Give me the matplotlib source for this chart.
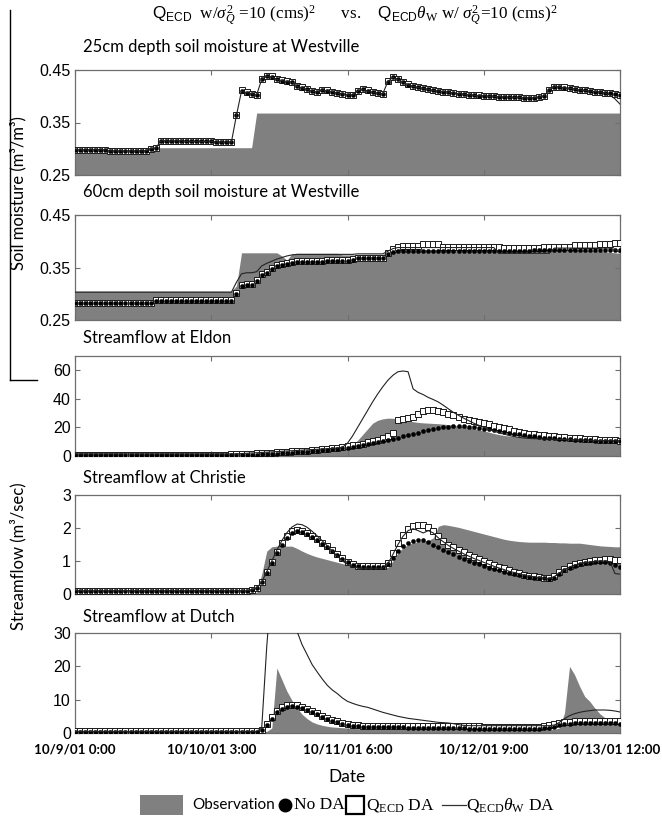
import numpy as np
import matplotlib
matplotlib.use('Agg')
import matplotlib.pyplot as plt
from matplotlib.lines import Line2D
from matplotlib.patches import Rectangle
from matplotlib.transforms import ScaledTranslation

plt.rcParams['mathtext.fontset'] = 'custom'
plt.rcParams['mathtext.rm'] = 'Liberation Serif'
plt.rcParams['mathtext.it'] = 'Liberation Serif:italic'
plt.rcParams['mathtext.sf'] = 'Liberation Sans'
plt.rcParams['mathtext.bf'] = 'Liberation Serif:bold'

# ---------------- data (hourly, 10/9/01 0:00 .. 10/13/01 12:00) ----------------
hours = np.arange(109)
xtick_pos = [0, 27, 54, 81, 108]
xtick_labels = ['10/9/01 0:00', '10/10/01 3:00', '10/11/01 6:00', '10/12/01 9:00', '10/13/01 12:00']

# Panel 1: 25cm soil moisture, Westville
p1_obs = [0.302] * 36 + [0.368] * 73
p1_nda = ([0.298] * 7 + [0.296] * 8 + [0.300, 0.301] +
          [0.315, 0.315, 0.315, 0.315, 0.315, 0.314, 0.314, 0.314, 0.314, 0.314, 0.314, 0.313, 0.313, 0.313] +
          [0.313, 0.364, 0.410, 0.407, 0.405, 0.403, 0.432, 0.438, 0.437] +
          [0.432, 0.430, 0.428, 0.427, 0.419, 0.416, 0.413, 0.410, 0.408] +
          [0.412, 0.410, 0.409, 0.406, 0.405, 0.403, 0.402] +
          [0.410, 0.413, 0.410, 0.408, 0.406, 0.405] +
          [0.428, 0.436, 0.432, 0.427, 0.422, 0.419, 0.417, 0.415, 0.413, 0.411, 0.410] +
          [0.409, 0.408, 0.406, 0.405, 0.404, 0.403, 0.402, 0.401, 0.401, 0.400] +
          [0.400, 0.399, 0.399, 0.398, 0.398, 0.398, 0.397, 0.397, 0.397, 0.398] +
          [0.401, 0.412, 0.418, 0.418, 0.416, 0.415, 0.414, 0.412, 0.411, 0.410, 0.409, 0.408, 0.407, 0.406, 0.404, 0.402])
p1_qecd = ([0.298] * 7 + [0.296] * 8 + [0.300, 0.301] +
           [0.315, 0.315, 0.315, 0.315, 0.315, 0.314, 0.314, 0.314, 0.314, 0.314, 0.314, 0.313, 0.313, 0.313] +
           [0.313, 0.364, 0.411, 0.408, 0.405, 0.403, 0.433, 0.439, 0.438] +
           [0.433, 0.431, 0.429, 0.427, 0.420, 0.417, 0.413, 0.410, 0.408] +
           [0.412, 0.411, 0.409, 0.407, 0.405, 0.403, 0.402] +
           [0.410, 0.413, 0.411, 0.408, 0.406, 0.405] +
           [0.429, 0.436, 0.432, 0.427, 0.423, 0.420, 0.417, 0.415, 0.413, 0.411, 0.410] +
           [0.409, 0.408, 0.407, 0.405, 0.404, 0.403, 0.402, 0.402, 0.401, 0.400] +
           [0.400, 0.399, 0.399, 0.398, 0.398, 0.398, 0.397, 0.397, 0.397, 0.398] +
           [0.401, 0.412, 0.418, 0.418, 0.417, 0.415, 0.414, 0.412, 0.411, 0.410, 0.409, 0.408, 0.407, 0.406, 0.404, 0.402])
p1_qth = ([0.298] * 7 + [0.296] * 8 + [0.300, 0.301] +
          [0.315, 0.315, 0.315, 0.315, 0.315, 0.314, 0.314, 0.314, 0.314, 0.314, 0.314, 0.313, 0.313, 0.313] +
          [0.313, 0.364, 0.410, 0.407, 0.405, 0.403, 0.432, 0.438, 0.437] +
          [0.432, 0.430, 0.428, 0.427, 0.419, 0.416, 0.413, 0.410, 0.408] +
          [0.412, 0.410, 0.409, 0.406, 0.405, 0.403, 0.402] +
          [0.410, 0.413, 0.410, 0.408, 0.406, 0.405] +
          [0.428, 0.436, 0.432, 0.427, 0.422, 0.419, 0.417, 0.415, 0.413, 0.411, 0.410] +
          [0.409, 0.408, 0.406, 0.405, 0.404, 0.403, 0.402, 0.401, 0.401, 0.400] +
          [0.400, 0.399, 0.399, 0.398, 0.398, 0.398, 0.397, 0.397, 0.397, 0.398] +
          [0.401, 0.412, 0.418, 0.418, 0.416, 0.415, 0.414, 0.412, 0.411, 0.410, 0.409, 0.408, 0.407, 0.402, 0.395, 0.385])

# Panel 2: 60cm soil moisture, Westville
p2_obs = ([0.305] * 32 + [0.315] + [0.378] * 8 + [0.372, 0.364, 0.376] + [0.377] * 9 +
          [0.374] * 4 + [0.375] * 5 + [0.379, 0.383, 0.385] + [0.384] * 36 +
          [0.383, 0.382, 0.382, 0.381, 0.380, 0.379, 0.378, 0.377])
p2_nda = ([0.282] * 16 + [0.287] * 16 +
          [0.300, 0.315, 0.316, 0.317, 0.325, 0.335, 0.340, 0.348, 0.352, 0.355, 0.357, 0.358] +
          [0.360, 0.360, 0.361, 0.361, 0.361, 0.361, 0.362, 0.362, 0.362, 0.362, 0.363, 0.364] +
          [0.368] * 6 + [0.375, 0.380, 0.382] + [0.382] * 26 + [0.383] * 10 + [0.384] * 8)
p2_qecd = ([0.283] * 16 + [0.288] * 16 +
           [0.302, 0.317, 0.318, 0.319, 0.327, 0.337, 0.342, 0.350, 0.354, 0.357, 0.359, 0.360] +
           [0.362, 0.362, 0.363, 0.363, 0.363, 0.363, 0.364, 0.364, 0.364, 0.364, 0.365, 0.366] +
           [0.369] * 6 + [0.378, 0.386, 0.390] + [0.391] * 4 + [0.394] * 4 + [0.390] * 12 +
           [0.388] * 8 + [0.389] * 6 + [0.392] * 5 + [0.394, 0.395, 0.395, 0.396, 0.396])
p2_qth = ([0.303] * 32 +
          [0.322, 0.338, 0.340, 0.340, 0.342, 0.353, 0.358, 0.362, 0.366, 0.369, 0.372, 0.374] +
          [0.375] * 12 + [0.376] * 6 + [0.381, 0.386, 0.388] + [0.388] * 19 + [0.377] * 11 +
          [0.387] * 12 + [0.384, 0.378])

# Panel 3: Streamflow at Eldon
p3_obs = ([1.2] * 45 + [2.0, 2.5, 3.0, 3.5, 4.0, 4.5, 5.0, 5.5] +
          [6, 7, 8, 11, 15, 19, 23, 25, 26, 26.5,
           26.4, 26, 25, 24.5, 24, 23.5, 23.2, 23, 22.8, 22.6,
           22.3, 22, 21.6, 21, 20.5, 20, 19.2, 18.4, 17.6, 16.7,
           15.8, 15, 14.4, 14, 13.6, 13.4, 13.1, 12.8, 12.5, 12.3,
           12.2, 12, 11.8, 11.6, 11.4, 11.3, 11.1, 10.9, 10.7, 10.5,
           10.4, 10.3, 10.2, 10.1, 10.1, 10.0])
p3_nda = ([0.8] * 35 + [0.9, 1.0, 1.1, 1.2, 1.4, 1.6] +
          [1.8, 2.0, 2.2, 2.5, 2.8, 3.1, 3.4, 3.7, 4.0, 4.3, 4.6, 5.0] +
          [5.4, 5.9, 6.4, 7.0, 7.6, 8.2, 8.9, 9.6, 10.4, 11.2,
           12.0, 12.8, 13.7, 14.6, 15.5, 16.4, 17.3, 18.1, 18.9, 19.6,
           20.1, 20.5, 20.7, 20.8, 20.7, 20.5, 20.1, 19.7, 19.2, 18.6,
           18.0, 17.4, 16.8, 16.2, 15.6, 15.1, 14.6, 14.1, 13.7, 13.3,
           12.9, 12.6, 12.3, 12.0, 11.8, 11.6, 11.4, 11.2, 11.0, 10.9,
           10.8, 10.7, 10.6, 10.5, 10.5, 10.4])
p3_qecd = ([1.0] * 31 +
           [1.2, 1.3, 1.4, 1.5, 1.6, 1.8, 2.0, 2.2, 2.4, 2.6, 2.8, 3.0, 3.2, 3.4, 3.6, 3.8, 4.0, 4.3, 4.6, 5.0, 5.4, 5.8] +
           [6.3, 6.8, 7.4, 8.0, 8.7, 9.5, 10.4, 11.4, 12.5, 13.7, 16.0] +
           [25.0, 25.8, 26.8, 27.5, 29.5, 31.5, 32.2, 32.0, 31.8, 31.0,
            29.2, 28.4, 27.5, 26.2, 25.2, 24.3, 23.5, 22.8, 22.1, 21.3,
            20.6, 19.9, 18.8, 17.6, 16.6, 16.0, 15.5, 15.2, 14.8, 14.5,
            14.2, 13.8, 13.5, 13.2, 12.9, 12.6, 12.3, 12.0, 11.8, 11.6,
            11.4, 11.2, 11.0, 10.9, 10.8])
p3_qth = ([1.5] * 33 +
          [1.7, 1.9, 2.1, 2.3, 2.5, 2.7, 2.9, 3.1, 3.3, 3.5, 3.7, 3.9, 4.1] +
          [4.3, 4.5, 4.7, 4.9, 5.1, 5.3, 5.6] +
          [6.0, 9.0, 14.0, 20.0, 26.0, 32.0, 38.0, 43.5, 48.5, 53.0,
           56.5, 59.0, 59.5, 59.0, 47.0, 44.5, 43.0, 41.0, 39.5, 37.8,
           35.5, 33.0, 30.5, 28.5, 26.5, 24.8, 23.0, 21.5, 20.0, 18.6,
           17.4, 16.3, 15.3, 14.4, 13.6, 13.0, 12.6, 12.3, 12.1, 12.0,
           11.9, 11.8, 11.7, 11.6, 11.5, 11.4, 11.3, 11.2, 11.1, 11.0,
           10.9, 10.8, 10.7, 10.7, 10.6, 10.6])

# Panel 4: Streamflow at Christie
p4_obs = ([0.05] * 37 + [0.6, 1.3, 1.43] + [1.45] * 4 +
          [1.38, 1.30, 1.23, 1.17, 1.12, 1.08, 1.04, 1.00, 0.96, 0.92, 0.89, 0.86, 0.83, 0.81] +
          [0.80] * 5 +
          [1.0, 1.25, 1.40, 1.50, 1.55, 1.58, 1.60, 1.62, 1.70, 2.05,
           2.10, 2.08, 2.05, 2.02, 1.98, 1.94, 1.90, 1.86, 1.82, 1.78,
           1.74, 1.70, 1.66, 1.63, 1.61, 1.59, 1.58, 1.57, 1.57, 1.57,
           1.57, 1.56, 1.56, 1.55, 1.55, 1.54, 1.54, 1.54, 1.52, 1.50,
           1.48, 1.46, 1.45, 1.44, 1.43, 1.43])
p4_nda = ([0.1] * 35 +
          [0.12, 0.18, 0.35, 0.65, 0.95, 1.25, 1.50, 1.70, 1.85, 1.90,
           1.88, 1.82, 1.74, 1.64, 1.53, 1.42, 1.30, 1.18, 1.06, 0.96, 0.88, 0.84] +
          [0.83] * 5 +
          [0.92, 1.10, 1.30, 1.45, 1.55, 1.62, 1.64, 1.63, 1.58, 1.50,
           1.42, 1.34, 1.27, 1.20, 1.13, 1.07, 1.01, 0.95, 0.90, 0.85,
           0.80, 0.76, 0.72, 0.68, 0.64, 0.61, 0.58, 0.55, 0.52, 0.50,
           0.48, 0.47, 0.46, 0.50, 0.60, 0.72, 0.80, 0.86, 0.90, 0.93,
           0.95, 0.97, 0.98, 0.96, 0.93, 0.88, 0.83])
p4_qecd = ([0.1] * 35 +
           [0.12, 0.18, 0.35, 0.66, 0.97, 1.28, 1.55, 1.76, 1.90, 1.95,
            1.92, 1.86, 1.77, 1.67, 1.56, 1.44, 1.32, 1.20, 1.08, 0.98, 0.90, 0.86] +
           [0.85] * 5 +
           [0.95, 1.25, 1.55, 1.80, 1.98, 2.05, 2.08, 2.08, 2.02, 1.92,
            1.75, 1.62, 1.50, 1.42, 1.34, 1.26, 1.19, 1.12, 1.06, 1.00,
            0.94, 0.88, 0.83, 0.78, 0.72, 0.67, 0.63, 0.59, 0.56, 0.54,
            0.51, 0.49, 0.48, 0.55, 0.66, 0.76, 0.84, 0.90, 0.94, 0.97,
            1.00, 1.02, 1.04, 1.05, 1.05, 1.04, 1.02])
p4_qth = ([0.1] * 35 +
          [0.12, 0.18, 0.36, 0.68, 1.00, 1.33, 1.62, 1.86, 2.03, 2.12,
           2.10, 2.02, 1.90, 1.76, 1.61, 1.46, 1.30, 1.15, 1.00, 0.90, 0.82, 0.79] +
          [0.78] * 5 +
          [0.92, 1.20, 1.50, 1.75, 1.92, 1.98, 1.92, 1.85, 1.92, 1.85,
           1.70, 1.58, 1.47, 1.38, 1.30, 1.22, 1.15, 1.08, 1.02, 0.96,
           0.90, 0.84, 0.79, 0.74, 0.69, 0.65, 0.61, 0.57, 0.54, 0.52,
           0.50, 0.48, 0.47, 0.53, 0.64, 0.74, 0.82, 0.88, 0.92, 0.95,
           0.97, 0.99, 1.00, 1.00, 0.98, 0.62, 0.60])

# Panel 5: Streamflow at Dutch
p5_obs = ([0.5] * 39 +
          [1.5, 19.5, 16.0, 12.5, 9.8, 7.5, 5.6, 4.3, 3.3, 2.7, 2.3, 2.0, 1.8, 1.7, 1.6, 1.5, 1.4] +
          [1.3] * 14 + [1.8, 2.2, 2.4] + [2.5] * 6 + [2.0, 1.4] + [1.1] * 15 +
          [1.5, 6.0, 20.0, 17.5, 14.0, 11.0, 9.5, 7.5, 5.8, 4.6, 3.7, 3.1, 2.7])
p5_nda = ([0.3] * 37 +
          [0.8, 2.4, 4.3, 6.2, 7.3, 7.8, 8.0, 7.8, 7.4, 6.9,
           6.2, 5.6, 4.9, 4.3, 3.7, 3.2, 2.8, 2.5, 2.2, 2.0, 1.9, 1.9] +
          [1.8, 1.8, 1.8, 1.7, 1.7, 1.7, 1.7, 1.6, 1.6, 1.6] +
          [1.5, 1.5, 1.5, 1.5, 1.4, 1.4, 1.4, 1.4, 1.4, 1.3, 1.3, 1.3] +
          [1.3] * 12 +
          [1.4, 1.6, 1.9, 2.3, 2.6, 2.8, 2.9, 3.0, 3.0, 3.1, 3.1, 3.1, 3.1, 3.0, 2.9, 2.8])
p5_qecd = ([0.5] * 37 +
           [1.0, 2.7, 4.7, 6.7, 7.8, 8.3, 8.5, 8.3, 7.9, 7.3,
            6.6, 5.9, 5.2, 4.6, 4.0, 3.5, 3.1, 2.8, 2.5, 2.3, 2.2, 2.2] +
           [2.1] * 12 + [2.0] * 10 + [1.9] * 12 +
           [2.0, 2.3, 2.7, 3.0, 3.2, 3.4, 3.5, 3.5, 3.6, 3.6, 3.6, 3.6, 3.6, 3.5, 3.5, 3.5])
p5_qth = ([0.5] * 37 +
          [1.5, 26.0, 45.0, 52.0, 48.0, 41.0, 35.0, 30.5, 26.5, 23.5,
           20.5, 18.3, 16.2, 14.3, 12.9, 11.8, 10.5, 9.5, 8.9, 8.4,
           8.0, 7.7, 7.2, 6.7, 6.2, 5.8, 5.4, 5.0, 4.7, 4.4,
           4.2, 4.0, 3.8, 3.6, 3.4, 3.2, 3.1, 3.0, 2.8, 2.5, 2.3] +
          [2.2] * 17 +
          [2.4, 3.2, 4.3, 5.2, 5.8, 6.2, 6.5, 6.7, 6.9, 6.9, 6.9, 6.8, 6.6, 6.3])

panel_titles = ['25cm depth soil moisture at Westville', '60cm depth soil moisture at Westville',
                'Streamflow at Eldon', 'Streamflow at Christie', 'Streamflow at Dutch']
panel_ylims = [(0.25, 0.45), (0.25, 0.45), (0, 70), (0, 3), (0, 30)]
panel_yticks = [[0.25, 0.35, 0.45], [0.25, 0.35, 0.45], [0, 20, 40, 60], [0, 1, 2, 3], [0, 10, 20, 30]]
panel_yticklabels = [['0.25', '0.35', '0.45'], ['0.25', '0.35', '0.45'],
                     ['0', '20', '40', '60'], ['0', '1', '2', '3'], ['0', '10', '20', '30']]
obs_series = [p1_obs, p2_obs, p3_obs, p4_obs, p5_obs]
nda_series = [p1_nda, p2_nda, p3_nda, p4_nda, p5_nda]
qecd_series = [p1_qecd, p2_qecd, p3_qecd, p4_qecd, p5_qecd]
qth_series = [p1_qth, p2_qth, p3_qth, p4_qth, p5_qth]

# ---------------- layout ----------------
W, H = 662, 824
fig = plt.figure(figsize=(W / 100, H / 100), dpi=100)

def fx(px):
    return px / W

def fy(py):
    return 1 - py / H

panel_px = [(70, 175), (215, 320), (356, 456), (495, 594), (633, 733)]
title_py = [47, 192, 338, 478, 617]
ax_left, ax_right = 75, 620
GRAY = '#808080'
FRAME = '#6e6e6e'
sans = 'Lato'
num_font = 'Liberation Sans'

for i in range(5):
    top, bot = panel_px[i]
    ax = fig.add_axes([fx(ax_left), fy(bot), fx(ax_right - ax_left), (bot - top) / H])
    ylo, yhi = panel_ylims[i]
    ax.fill_between(hours, ylo, obs_series[i], color=GRAY, lw=0, zorder=1)
    ax.plot(hours, qecd_series[i], ls='none', marker='s', ms=4.6, mfc='white', mec='#1a1a1a',
            mew=0.7, zorder=3)
    ax.plot(hours, nda_series[i], ls='none', marker='o', ms=3.0, mfc='black', mec='black',
            mew=0.3, zorder=4)
    ax.plot(hours, qth_series[i], color='#222222', lw=0.8, zorder=5)
    ax.set_xlim(0, 108)
    ax.set_ylim(ylo, yhi)
    ax.set_yticks(panel_yticks[i])
    ax.set_yticklabels(panel_yticklabels[i], fontsize=11.5, family=num_font)
    ax.set_xticks(xtick_pos)
    ax.set_xticklabels([])
    if i == 4:
        tr = ax.get_xaxis_transform()
        for k, (pos, lab) in enumerate(zip(xtick_pos, xtick_labels)):
            t = tr + ScaledTranslation(0.0 if k < 4 else -0.085, -0.16, fig.dpi_scale_trans)
            ax.text(pos, 0, lab, transform=t, fontsize=9.6, family=sans, fontweight='bold',
                    ha='center', va='center', clip_on=False)
    ax.tick_params(direction='in', top=True, right=True, length=3.5, width=0.8, color=FRAME, pad=3)
    for s in ax.spines.values():
        s.set_color(FRAME)
        s.set_linewidth(0.9)
    fig.text(fx(83), fy(title_py[i]), panel_titles[i], fontsize=12, family=sans,
             ha='left', va='center')

# y labels
fig.text(fx(18), fy(193), 'Soil moisture (m³/m³)', rotation=90, fontsize=12, family=sans,
         ha='center', va='center')
fig.text(fx(18), fy(556), 'Streamflow (m³/sec)', rotation=90, fontsize=12, family=sans,
         ha='center', va='center')
fig.text(fx(347), fy(777), 'Date', fontsize=12.5, family=sans, ha='center', va='center')

# bracket line at left
fig.add_artist(Line2D([fx(10), fx(10)], [fy(10), fy(380)], color='black', lw=1.0))
fig.add_artist(Line2D([fx(10), fx(37)], [fy(380), fy(380)], color='black', lw=1.0))

# top title
title = (r'$\mathsf{Q}_{\mathsf{ECD}}$  w/$\sigma^2_Q$ =10 (cms)$^2$      vs.    '
         r'$\mathsf{Q}_{\mathsf{ECD}}\theta_{\mathrm{W}}$ w/ $\sigma^2_Q$=10 (cms)$^2$')
fig.text(fx(355), fy(16), title, fontsize=12.3, family='Liberation Serif', ha='center', va='center')

# legend
ly = 805
fig.add_artist(Rectangle((fx(140), fy(815)), fx(43), 20 / H, facecolor=GRAY, edgecolor='none'))
fig.text(fx(192), fy(ly), 'Observation', fontsize=11, family=sans, ha='left', va='center')
fig.add_artist(Line2D([fx(285)], [fy(ly)], marker='o', ms=9, mfc='black', mec='black', ls='none'))
fig.text(fx(294), fy(ly), 'No DA', fontsize=12.5, family='Liberation Serif', ha='left', va='center')
fig.add_artist(Line2D([fx(355)], [fy(ly)], marker='s', ms=13, mfc='white', mec='black', mew=1.6, ls='none'))
fig.text(fx(366), fy(ly), r'Q$_{\mathrm{ECD}}$ DA', fontsize=12.5, family='Liberation Serif', ha='left', va='center')
fig.add_artist(Line2D([fx(442), fx(466)], [fy(ly), fy(ly)], color='#333333', lw=0.9))
fig.text(fx(466), fy(ly), r'Q$_{\mathrm{ECD}}\theta_{\mathrm{W}}$ DA', fontsize=12.5,
         family='Liberation Serif', ha='left', va='center')

fig.savefig('out.png', dpi=100)
